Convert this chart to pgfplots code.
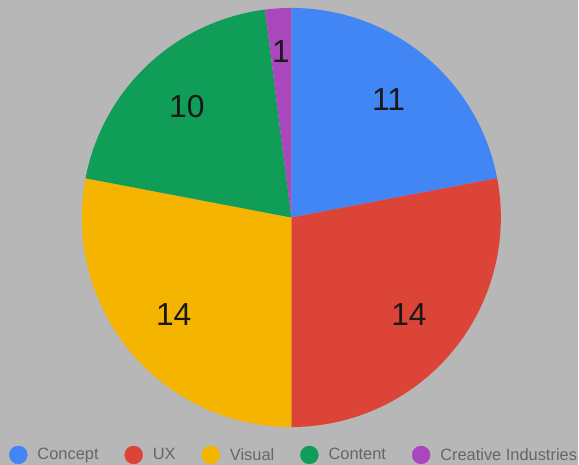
\documentclass[border=0pt]{standalone}
\usepackage{pgfplots}
\pgfplotsset{compat=1.18}
\usepackage{pgfplotstable}
\usepackage{fontspec}
\setmainfont{Liberation Sans}

\definecolor{bg}{HTML}{B7B7B7}
\definecolor{legtext}{HTML}{666666}
\definecolor{c0}{HTML}{4285F4}
\definecolor{c1}{HTML}{DB4437}
\definecolor{c2}{HTML}{F4B400}
\definecolor{c3}{HTML}{0F9D58}
\definecolor{c4}{HTML}{AB47BC}

% slice values, label distance from centre (px)
\pgfplotstableread{
name       value  lr
Concept    11     153
UX         14     153
Visual     14     153
Content    10     153
Creative   1      167
}\piedata

\begin{document}
\begin{tikzpicture}
% cumulative angles, clockwise from 12 o'clock
\def\total{0}
\pgfplotsforeachungrouped \i in {0,...,4}{%
  \pgfplotstablegetelem{\i}{value}\of\piedata
  \pgfmathsetmacro{\total}{\total+\pgfplotsretval}%
}
\def\run{0}
\pgfplotsforeachungrouped \i in {0,...,4}{%
  \pgfplotstablegetelem{\i}{value}\of\piedata
  \let\val\pgfplotsretval
  \pgfplotstablegetelem{\i}{lr}\of\piedata
  \let\lr\pgfplotsretval
  \pgfmathsetmacro{\sa}{90-360*(\run/\total)}%
  \pgfmathsetmacro{\run}{\run+\val}%
  \pgfmathsetmacro{\ea}{90-360*(\run/\total)}%
  \pgfmathsetmacro{\ma}{(\sa+\ea)/2}%
  \expandafter\xdef\csname sa\i\endcsname{\sa}%
  \expandafter\xdef\csname ea\i\endcsname{\ea}%
  \pgfmathsetmacro{\lx}{292+\lr*cos(\ma)}%
  \pgfmathsetmacro{\ly}{248+\lr*sin(\ma)}%
  \expandafter\xdef\csname lx\i\endcsname{\lx}%
  \expandafter\xdef\csname ly\i\endcsname{\ly}%
  \pgfmathtruncatemacro{\vv}{\val}%
  \expandafter\xdef\csname val\i\endcsname{\vv}%
}
\begin{axis}[
  hide axis,
  scale only axis,
  x=1bp, y=1bp,
  xmin=0, xmax=579, ymin=0, ymax=466,
  clip=false,
  legend columns=-1,
  legend style={
    at={(0.0155,0.0215)}, anchor=west,
    draw=none, fill=none, inner sep=0pt,
    font=\fontsize{16.5}{18}\selectfont, text=legtext,
    nodes={inner sep=2bp},
    /tikz/every odd column/.append style={column sep=8bp},
    /tikz/every even column/.append style={column sep=24bp},
  },
]
\fill[bg] (axis cs:0,0) rectangle (axis cs:579,466);
\pgfplotsinvokeforeach{0,...,4}{
  \fill[c#1] (axis cs:292,248) -- ++(\csname sa#1\endcsname:210bp)
    arc[start angle=\csname sa#1\endcsname, end angle=\csname ea#1\endcsname, radius=210bp] -- cycle;
  \node[text=black!90, font=\fontsize{32}{36}\selectfont]
    at (axis cs:\csname lx#1\endcsname,\csname ly#1\endcsname) {\csname val#1\endcsname};
}
\addlegendimage{legend image code/.code={\fill[c0] (0bp,0bp) circle[radius=9bp];}}
\addlegendentry{Concept}
\addlegendimage{legend image code/.code={\fill[c1] (0bp,0bp) circle[radius=9bp];}}
\addlegendentry{UX}
\addlegendimage{legend image code/.code={\fill[c2] (0bp,0bp) circle[radius=9bp];}}
\addlegendentry{Visual}
\addlegendimage{legend image code/.code={\fill[c3] (0bp,0bp) circle[radius=9bp];}}
\addlegendentry{Content}
\addlegendimage{legend image code/.code={\fill[c4] (0bp,0bp) circle[radius=9bp];}}
\addlegendentry{Creative Industries}
\end{axis}
\end{tikzpicture}
\end{document}
